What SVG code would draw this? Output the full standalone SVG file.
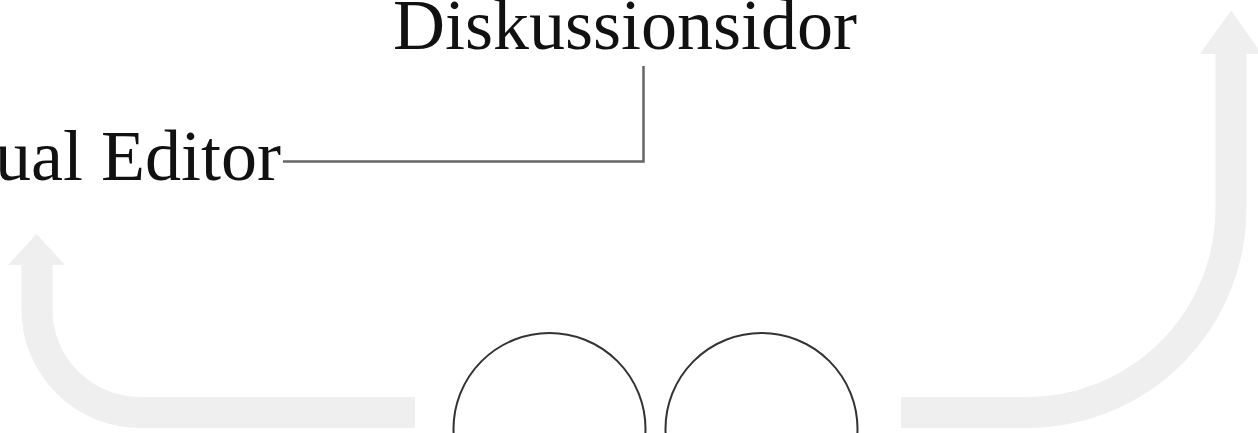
<svg xmlns="http://www.w3.org/2000/svg" width="1258" height="433" viewBox="0 0 1258 433">
<style>
.lbl{font-family:"Liberation Serif","Times New Roman",serif;font-size:72px;fill:#111}
.flow{fill:none;stroke:#efefef;stroke-width:31}
.head{fill:#efefef}
.conn{fill:none;stroke:#666;stroke-width:2.5}
.circ{fill:#fff;stroke:#333;stroke-width:2}
</style>
<rect width="1258" height="433" fill="#fff"/>
<g id="arrows">
<path class="flow" d="M415,412.5 H140 A103,103 0 0 1 37,309.5 V264"/>
<polygon class="head" points="8,265 36.5,234 65,265"/>
<path class="flow" d="M901,412.5 H1027 A204,204 0 0 0 1231,208.5 V53"/>
<polygon class="head" points="1200,54 1231,10.5 1262,54"/>
</g>
<g id="connectors">
<path class="conn" d="M283,161.5 H643.5 V66"/>
</g>
<g id="node-diskussionsidor">
<text class="lbl" x="625" y="49" text-anchor="middle">Diskussionsidor</text>
</g>
<g id="node-visual-editor">
<text class="lbl" x="281" y="180" text-anchor="end">Visual Editor</text>
</g>
<g id="node-circle-left">
<circle class="circ" cx="549.5" cy="429" r="96"/>
</g>
<g id="node-circle-right">
<circle class="circ" cx="761.5" cy="429" r="96"/>
</g>
</svg>
